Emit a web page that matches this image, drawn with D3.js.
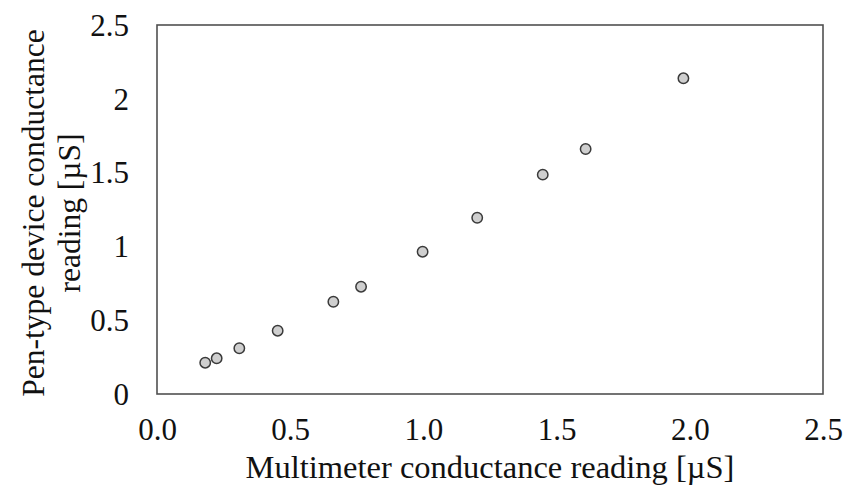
<!DOCTYPE html>
<html>
<head>
<meta charset="utf-8">
<script src="https://cdn.jsdelivr.net/npm/d3@7"></script>
<style>
  body { margin: 0; background: #fff; }
  svg text { font-family: "Liberation Serif", "Times New Roman", serif; fill: #111; }
</style>
</head>
<body>
<div id="chart"></div>
<script>
// readings
var multimeter = [0.181, 0.224, 0.309, 0.453, 0.662, 0.766, 0.997, 1.202, 1.448, 1.609, 1.976];
var penDevice = [0.212, 0.242, 0.310, 0.429, 0.625, 0.727, 0.964, 1.194, 1.486, 1.660, 2.139];

var xTicks = [0, 0.5, 1.0, 1.5, 2.0, 2.5];
var yTicks = [0, 0.5, 1, 1.5, 2, 2.5];

var xTitle = "Multimeter conductance reading [\u00b5S]";
var yTitle = ["Pen-type device conductance", "reading [\u00b5S]"];

var chartW = 844, chartH = 492;
var plotL = 157, plotR = 823, plotT = 25, plotB = 394;

var svg = d3.select("#chart").append("svg")
	.attr("width", chartW)
	.attr("height", chartH);

var x = d3.scaleLinear().domain([0, 2.5]).range([plotL, plotR]);
var y = d3.scaleLinear().domain([0, 2.5]).range([plotB, plotT]);

// x axis labels
var xAxis = d3.axisBottom(x).tickValues(xTicks).tickSize(0).tickPadding(0)
	.tickFormat(d3.format(".1f"));
var gx = svg.append("g")
	.attr("transform", "translate(0," + plotB + ")")
	.call(xAxis);
gx.select(".domain").remove();
gx.selectAll("text")
	.attr("y", 46)
	.attr("dy", 0)
	.style("font-size", "31px")
	.style("font-family", "Liberation Serif");

// y axis labels
var yAxis = d3.axisLeft(y).tickValues(yTicks).tickSize(0).tickPadding(0)
	.tickFormat(function(d) { return String(d); });
var gy = svg.append("g")
	.attr("transform", "translate(" + plotL + ",0)")
	.call(yAxis);
gy.select(".domain").remove();
gy.selectAll("text")
	.attr("x", -28)
	.attr("dy", "0.33em")
	.style("font-size", "31px")
	.style("font-family", "Liberation Serif");

// plot frame
svg.append("rect")
	.attr("x", plotL)
	.attr("y", plotT)
	.attr("width", plotR - plotL)
	.attr("height", plotB - plotT)
	.attr("fill", "none")
	.attr("stroke", "#505050")
	.attr("stroke-width", 1.6);

// points
svg.selectAll("circle.pt")
	.data(multimeter)
	.enter().append("circle")
	.attr("class", "pt")
	.attr("cx", function(d) { return x(d); })
	.attr("cy", function(d, i) { return y(penDevice[i]); })
	.attr("r", 5.2)
	.attr("fill", "#cfcfcf")
	.attr("stroke", "#3a3a3a")
	.attr("stroke-width", 1.5);

// titles
svg.append("text")
	.attr("x", (plotL + plotR) / 2)
	.attr("y", 478)
	.attr("text-anchor", "middle")
	.style("font-size", "32.5px")
	.text(xTitle);

yTitle.forEach(function(line, i) {
	svg.append("text")
		.attr("transform", "translate(" + (44 + i * 36) + "," + 213 + ") rotate(-90)")
		.attr("text-anchor", "middle")
		.style("font-size", "31.5px")
		.text(line);
});
</script>
</body>
</html>
